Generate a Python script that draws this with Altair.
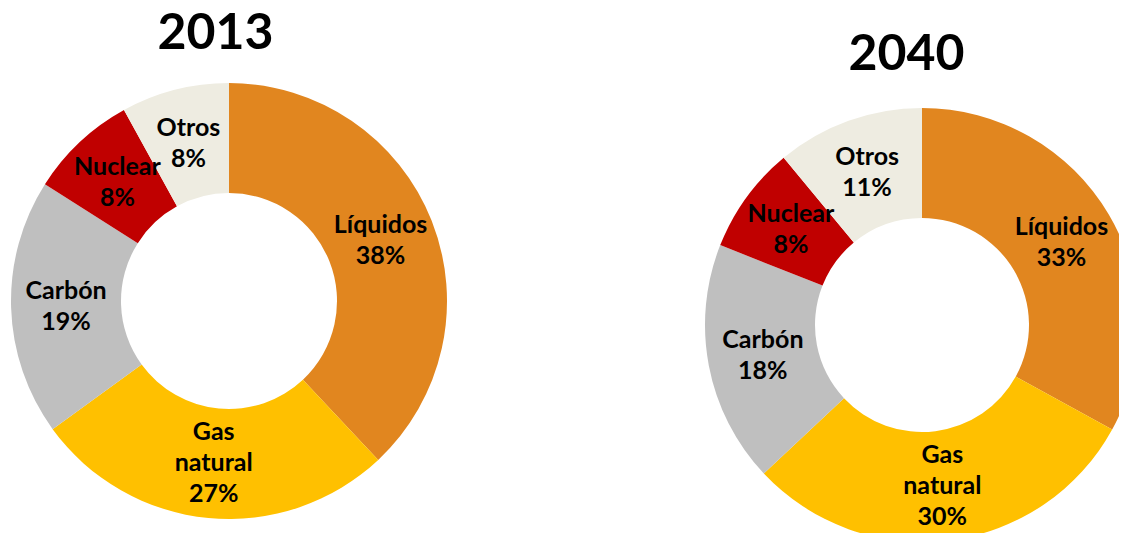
import altair as alt
import pandas as pd

categories = ["Líquidos", "Gas natural", "Carbón", "Nuclear", "Otros"]
label_names = ["Líquidos", "Gas\nnatural", "Carbón", "Nuclear", "Otros"]
values_2013 = [38, 27, 19, 8, 8]
values_2040 = [33, 30, 18, 8, 11]
years = ["2013", "2040"]
colors = ["#E1861F", "#FFC000", "#BFBFBF", "#C00000", "#EEECE1"]

rows = []
for year, vals in zip(years, [values_2013, values_2040]):
    for i, (cat, lab, v) in enumerate(zip(categories, label_names, vals)):
        text = f"{lab}\n{v}%"
        rows.append({"year": year, "cat": cat, "idx": i, "value": v,
                     "label": text, "nlines": text.count("\n") + 1})
df = pd.DataFrame(rows)
titles = pd.DataFrame({"year": years})

W, H = 1111, 525
FONT = "Lato"
LH = 31

# layout per panel: center x, center y, outer r, inner r, title x, title y
layout = {
    "2013": dict(cx=221, cy=293, ro=218, ri=108, tx=207.5, ty=26),
    "2040": dict(cx=914, cy=317, ro=217, ri=107, tx=898.5, ty=47),
}

color_scale = alt.Scale(domain=categories, range=colors)
theta_scale = alt.Scale(domain=[0, 100])
layers = []
for year in years:
    L = layout[year]
    base = alt.Chart(df).transform_filter(alt.datum.year == year)
    arc = base.mark_arc(outerRadius=L["ro"], innerRadius=L["ri"], clip=True).encode(
        theta=alt.Theta("value:Q", stack=True, scale=theta_scale),
        order=alt.Order("idx:Q"),
        color=alt.Color("cat:N", scale=color_scale, legend=None),
        x=alt.value(L["cx"]),
        y=alt.value(L["cy"]),
    )
    layers.append(arc)
    lab_base = base.transform_window(
        cum="sum(value)", sort=[alt.SortField("idx")], frame=[None, 0]
    ).transform_calculate(mid="datum.cum - datum.value / 2")
    for n in [2, 3]:
        txt = lab_base.transform_filter(alt.datum.nlines == n).mark_text(
            radius=(L["ro"] + L["ri"]) / 2,
            font=FONT, fontSize=25, fontWeight="bold", color="black",
            lineBreak="\n", lineHeight=LH, align="center", baseline="middle",
            dy=-(n - 1) * LH / 2,
        ).encode(
            theta=alt.Theta("mid:Q", stack=None, scale=theta_scale),
            text="label:N",
            x=alt.value(L["cx"]),
            y=alt.value(L["cy"]),
        )
        layers.append(txt)
    title = alt.Chart(titles).transform_filter(alt.datum.year == year).mark_text(
        font=FONT, fontSize=50, fontWeight="bold", color="black",
        align="center", baseline="middle",
    ).encode(
        text="year:N",
        x=alt.value(L["tx"]),
        y=alt.value(L["ty"]),
    )
    layers.append(title)

chart = alt.layer(*layers).properties(
    width=W, height=H,
    autosize=alt.AutoSizeParams(type="none"),
    padding=0,
).configure_view(stroke=None)

chart.save("out.html", embed_options={"renderer": "svg", "actions": False})
